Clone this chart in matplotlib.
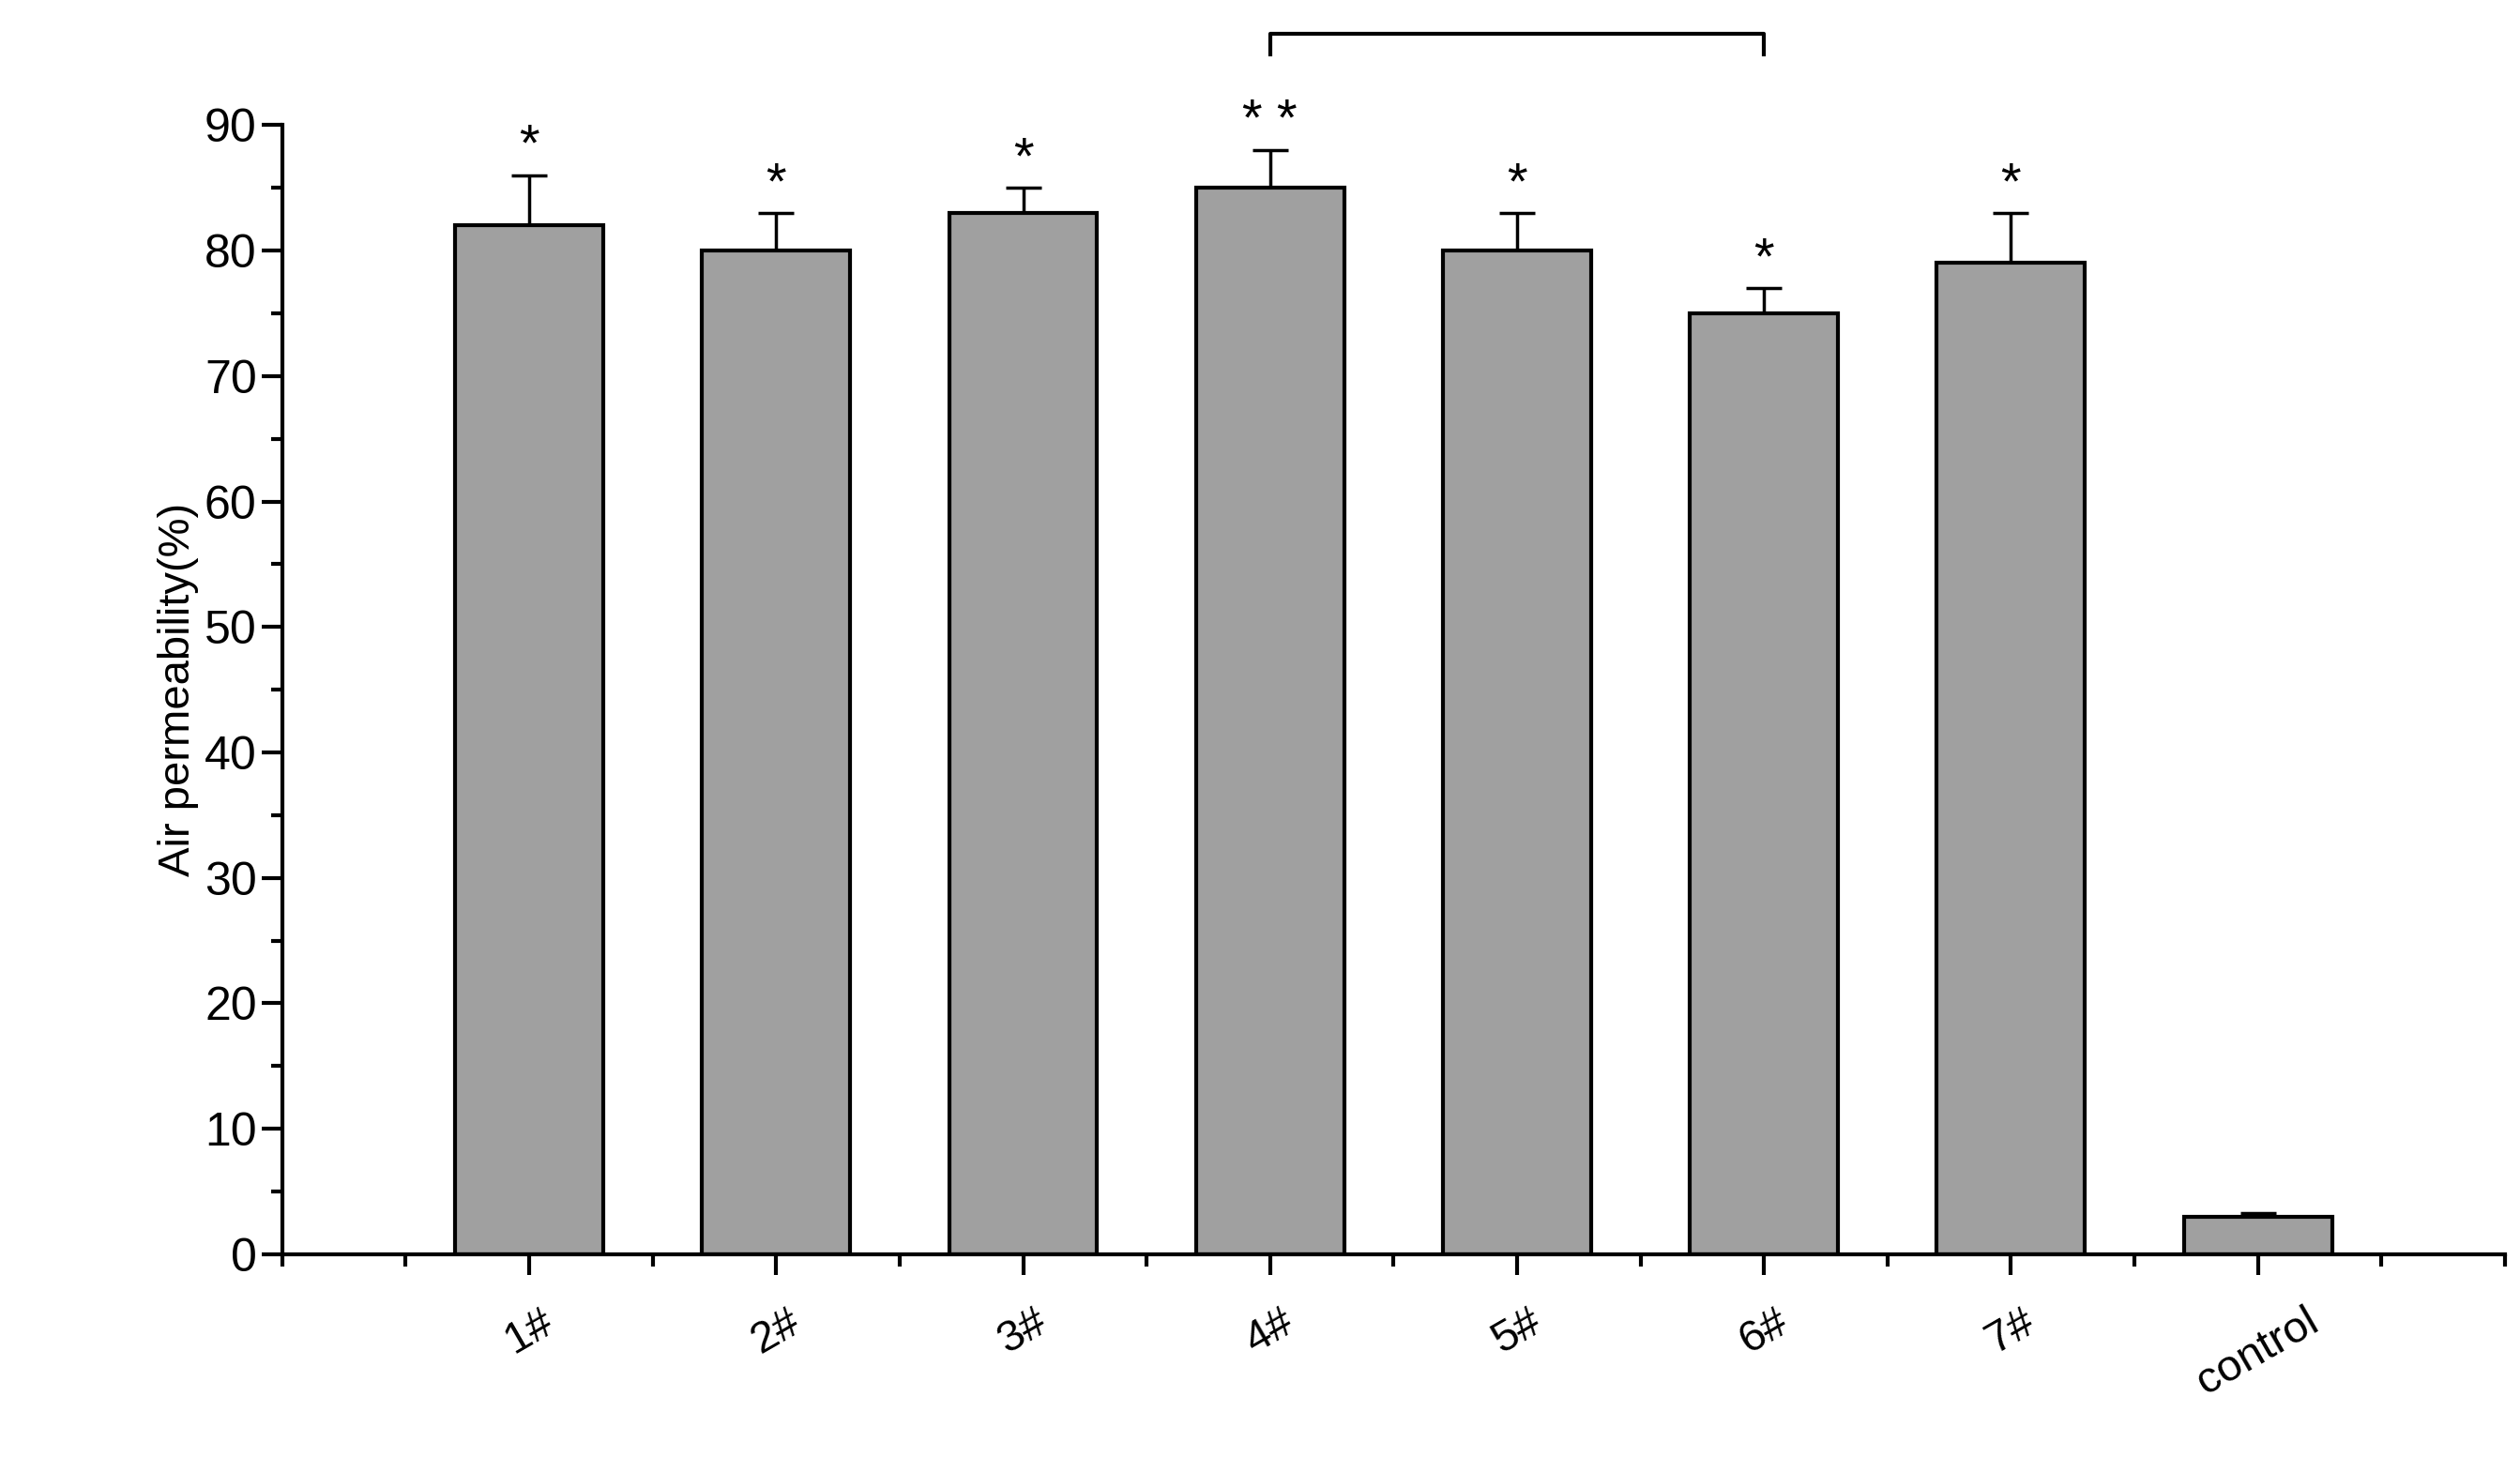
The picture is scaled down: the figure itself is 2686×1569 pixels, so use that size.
import numpy as np
import matplotlib.pyplot as plt
from matplotlib.ticker import MultipleLocator

plt.rcParams['font.family'] = ['Liberation Sans', 'DejaVu Sans']

categories = ['1#', '2#', '3#', '4#', '5#', '6#', '7#', 'control']
values = [82, 80, 83, 85, 80, 75, 79, 3]
errors = [4, 3, 2, 3, 3, 2, 4, 0.3]
stars = ['*', '*', '*', '* *', '*', '*', '*', '']

fig = plt.figure(figsize=(26.86, 15.69), dpi=100)
ax = fig.add_axes([0.112, 0.148, 0.882, 0.767])

x = np.arange(1, len(categories) + 1)
ax.bar(x, values, width=0.6, color='#a0a0a0', edgecolor='black', linewidth=3, zorder=2)
ax.errorbar(x, values, yerr=[np.zeros(len(errors)), errors], fmt='none',
            ecolor='black', elinewidth=2.5, capsize=14, capthick=2.5, zorder=1)

for xi, v, e, s in zip(x, values, errors, stars):
    if s:
        ax.text(xi, v + e + 0.3, s, ha='center', va='bottom', fontsize=40)

# bracket between 4# and 6#
ax.plot([4, 4, 6, 6], [95.6, 97.3, 97.3, 95.6], color='black', lw=3, clip_on=False)

ax.set_xlim(0, 9)
ax.set_ylim(0, 90)
ax.set_xticks(x)
ax.set_xticklabels(categories, rotation=30, fontsize=34)
ax.xaxis.set_minor_locator(MultipleLocator(0.5))
ax.yaxis.set_major_locator(MultipleLocator(10))
ax.yaxis.set_minor_locator(MultipleLocator(5))
ax.tick_params(axis='y', labelsize=36, width=3, length=16)
ax.tick_params(axis='y', which='minor', width=3, length=9)
ax.tick_params(axis='x', width=3, length=16, pad=20)
ax.tick_params(axis='x', which='minor', width=3, length=9)
for lab in ax.get_yticklabels():
    lab.set_fontfamily(['Liberation Sans'])
ax.set_ylabel('Air permeability(%)', fontsize=34)
ax.spines['top'].set_visible(False)
ax.spines['right'].set_visible(False)
ax.spines['left'].set_linewidth(3)
ax.spines['bottom'].set_linewidth(3)

fig.savefig('out.png', dpi=100)
